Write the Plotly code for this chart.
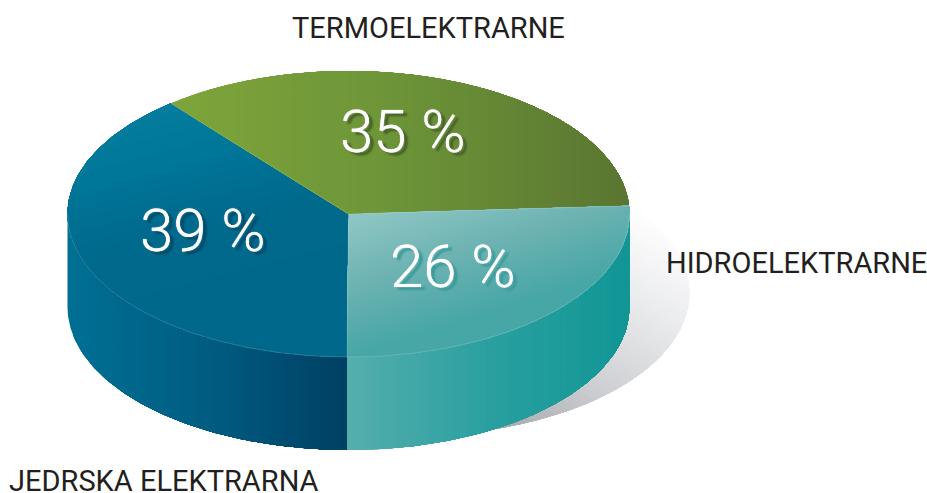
import math
import plotly.graph_objects as go

categories = ["JEDRSKA ELEKTRARNA", "TERMOELEKTRARNE", "HIDROELEKTRARNE"]
shares = [39, 35, 26]
share_labels = ["39 %", "35 %", "26 %"]

# pie projection (pixel space of the axes)
CX, CY, RX, RY, DEPTH = 348.5, 214.0, 281.0, 143.0, 93.0
START = -90.3

def hex2rgb(h):
    return tuple(int(h[i:i + 2], 16) for i in (1, 3, 5))

def mix(c0, c1, f):
    a, b = hex2rgb(c0), hex2rgb(c1)
    return "rgb(%d,%d,%d)" % tuple(round(a[i] + (b[i] - a[i]) * f) for i in range(3))

def pt(deg, dy=0.0, cx=CX, cy=CY):
    r = math.radians(deg)
    return (cx + RX * math.cos(r), cy - RY * math.sin(r) + dy)

def arc(a0, a1, dy=0.0, cx=CX, cy=CY):
    n = max(2, int(abs(a1 - a0) / 1.0))
    return [pt(a0 + (a1 - a0) * i / n, dy, cx, cy) for i in range(n + 1)]

def clip(poly, d, t):
    out = []
    for i, p in enumerate(poly):
        q = poly[(i + 1) % len(poly)]
        sp = p[0] * d[0] + p[1] * d[1] - t
        sq = q[0] * d[0] + q[1] * d[1] - t
        if sp >= 0:
            out.append(p)
        if (sp >= 0) != (sq >= 0):
            f = sp / (sp - sq)
            out.append((p[0] + (q[0] - p[0]) * f, p[1] + (q[1] - p[1]) * f))
    return out

fig = go.Figure()

def add_poly(poly, color):
    if len(poly) < 3:
        return
    fig.add_trace(go.Scatter(
        x=[p[0] for p in poly] + [poly[0][0]], y=[p[1] for p in poly] + [poly[0][1]],
        mode="lines", fill="toself", fillcolor=color, line=dict(width=0),
        hoverinfo="skip", showlegend=False))

def gradient(poly, d, t0, t1, stops, n=50):
    norm = math.hypot(*d)
    d = (d[0] / norm, d[1] / norm)
    for k in range(n):
        f = k / (n - 1)
        pos = f * (len(stops) - 1)
        i = min(int(pos), len(stops) - 2)
        col = mix(stops[i], stops[i + 1], pos - i)
        add_poly(poly if k == 0 else clip(poly, d, t0 + (t1 - t0) * f), col)

def line(points, color, width=0.7):
    fig.add_trace(go.Scatter(x=[p[0] for p in points], y=[p[1] for p in points], mode="lines",
                             line=dict(color=color, width=width), hoverinfo="skip", showlegend=False))

# styling by category: face gradient (direction, from, to, colours) and wall gradient
face_style = {
    "JEDRSKA ELEKTRARNA": ((0.25, 0.97), 110, 340, ["#067f9f", "#00789a", "#006a8d", "#00688b"]),
    "TERMOELEKTRARNE": ((1, 0), 170, 628, ["#7ea53a", "#6c9338", "#5a7531"]),
    "HIDROELEKTRARNE": ((0.3, 0.95), 310, 445, ["#8fc7c5", "#6db3b2", "#47a6a6"]),
}
wall_style = {
    "JEDRSKA ELEKTRARNA": ["#006f94", "#005c81", "#003f62"],
    "HIDROELEKTRARNE": ["#54aeac", "#2a9fa0", "#109695"],
}

# drop shadow
sh_cx, sh_cy = CX + 60, 293
shadow = arc(0, 360, 0, sh_cx, sh_cy)[:-1]
d_sh = (-0.5, 0.87)
t_a = 640 * d_sh[0] + 205 * d_sh[1]
t_b = 500 * d_sh[0] + 425 * d_sh[1]
gradient(shadow, d_sh, t_a, t_b, ["#ffffff", "#e9eaec", "#cfd0d3", "#a9aaaf"], n=50)

# walls and faces, from shares
angles = []
a = START
for cat, v in zip(categories, shares):
    sweep = v / sum(shares) * 360
    angles.append((cat, a, a - sweep))
    a -= sweep

for cat, hi, lo in angles:
    for k in (0, -360):
        l, h = max(lo, -180 + k), min(hi, k)
        if h > l and cat in wall_style:
            wall = arc(l, h) + arc(h, l, DEPTH)
            gradient(wall, (1, 0), min(p[0] for p in wall), max(p[0] for p in wall), wall_style[cat], n=50)

for cat, hi, lo in angles:
    d, t0, t1, stops = face_style[cat]
    face = [(CX, CY)] + arc(hi, lo)
    gradient(face, d, t0, t1, stops, n=50)

for cat, hi, lo in angles:
    line([(CX, CY), pt(hi)], "rgba(255,255,255,0.22)")
    for k in (0, -360):
        l, h = max(lo, -180 + k), min(hi, k)
        if h > l:
            line(arc(l, h), "rgba(255,255,255,0.22)")

LABEL_FONT = "Roboto"
label_pos = {"JEDRSKA ELEKTRARNA": (163.5, 481), "TERMOELEKTRARNE": (428, 28), "HIDROELEKTRARNE": (796, 263)}
share_pos = {"JEDRSKA ELEKTRARNA": (203, 230), "TERMOELEKTRARNE": (403, 131), "HIDROELEKTRARNE": (453, 266)}
share_shadow = {"JEDRSKA ELEKTRARNA": "#004a68", "TERMOELEKTRARNE": "#46602a", "HIDROELEKTRARNE": "#3c9a9c"}

annotations = []
for cat, txt in zip(categories, share_labels):
    x, y = share_pos[cat]
    annotations.append(dict(x=x, y=y, text=txt, showarrow=False, xanchor="center", yanchor="middle",
                            font=dict(family=LABEL_FONT, size=60, color="#ffffff", weight=300,
                                      shadow="0 0 1px #ffffff, 4px 3px 2px " + share_shadow[cat])))
    x, y = label_pos[cat]
    annotations.append(dict(x=x, y=y, text=cat, showarrow=False, xanchor="center", yanchor="middle",
                            font=dict(family=LABEL_FONT, size=29, color="#231f20")))

fig.update_layout(
    width=927, height=493, margin=dict(l=0, r=0, t=0, b=0),
    paper_bgcolor="white", plot_bgcolor="white", showlegend=False, annotations=annotations,
    xaxis=dict(range=[0, 927], visible=False, fixedrange=True),
    yaxis=dict(range=[493, 0], visible=False, fixedrange=True),
)
fig.write_html("out.html", config={"displayModeBar": False},
               post_script="document.body.style.margin='0';document.body.style.overflow='hidden';")
